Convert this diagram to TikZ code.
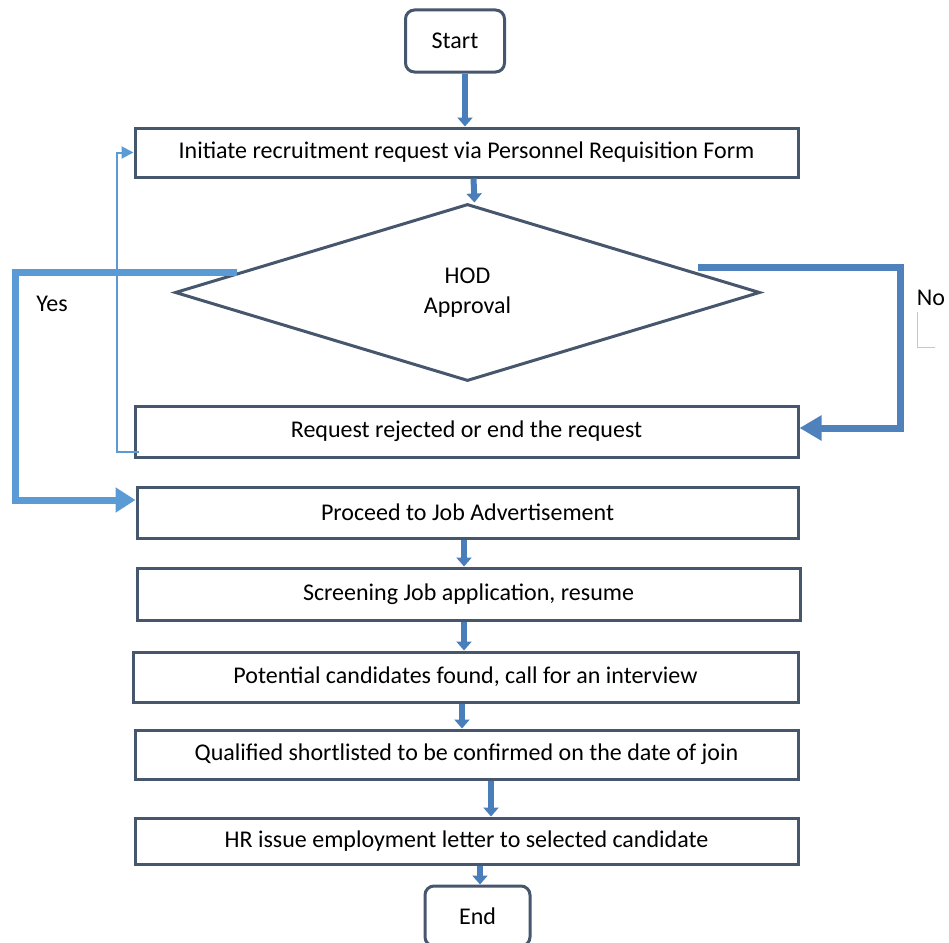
\documentclass[tikz,border=0pt]{standalone}
\usepackage{fontspec}
\setmainfont{Carlito}
\usepackage{tikz}
\usetikzlibrary{calc,arrows.meta,positioning,shapes.geometric}
\definecolor{slatex}{HTML}{46566D}
\definecolor{blockx}{HTML}{4A7EBB}
\definecolor{skyx}{HTML}{5B9BD5}
\definecolor{steelx}{HTML}{4F81BD}
\tikzset{
  box/.style={draw=slatex,line width=3pt,rectangle,align=center,inner sep=2pt},
  term/.style={box,rounded corners=9pt},
  ar/.style={-{Triangle[length=9pt,width=15pt]},line width=6pt,blockx},
  yesln/.style={-{Triangle[length=20pt,width=24pt]},line width=7pt,skyx},
  noln/.style={-{Triangle[length=22pt,width=24pt]},line width=7pt,steelx},
  back/.style={-{Triangle[length=12pt,width=12pt]},line width=2pt,skyx}
}
\begin{document}
\begin{tikzpicture}[x=1pt,y=-1pt,font=\fontsize{24}{30}\selectfont]
\useasboundingbox (0,0) rectangle (949,942);
\node[term,minimum width=99pt,minimum height=62pt] (start) at (455,41) {Start};
\node[box,minimum width=663pt,minimum height=49pt] (req) at (466.5,152.5) {Initiate recruitment request via Personnel Requisition Form};
\node[draw=slatex,line width=3pt,diamond,minimum width=585pt,minimum height=177pt,inner sep=0pt,align=center] (dia) at (467.5,292.5) {HOD\\Approval};
\node[box,minimum width=663pt,minimum height=51pt] (rej) at (466.5,431.5) {Request rejected or end the request};
\node[box,minimum width=661pt,minimum height=51pt] (adv) at (467.5,512.5) {Proceed to Job Advertisement};
\node[box,minimum width=663pt,minimum height=52pt] (scr) at (468.5,594) {Screening Job application, resume};
\node[box,minimum width=665pt,minimum height=50pt] (pot) at (465.5,677) {Potential candidates found, call for an interview};
\node[box,minimum width=663pt,minimum height=49pt] (qual) at (466.5,754.5) {Qualified shortlisted to be confirmed on the date of join};
\node[box,minimum width=663pt,minimum height=46pt] (hr) at (466.5,841) {HR issue employment letter to selected candidate};
\node[term,minimum width=105pt,minimum height=60pt] (end) at (477.5,916) {End};
% main flow
\draw[ar] ([xshift=10pt]start.south) -- ([xshift=10pt]start.south |- req.north);
\draw[ar] ([xshift=7pt]req.south) -- ([xshift=7pt]dia.north);
\draw[ar] ([xshift=-3.5pt]adv.south) -- ([xshift=-3.5pt]adv.south |- scr.north);
\draw[ar] ([xshift=-4.5pt]scr.south) -- ([xshift=-4.5pt]scr.south |- pot.north);
\draw[ar] ([xshift=-3.5pt]pot.south) -- ([xshift=-3.5pt]pot.south |- qual.north);
\draw[ar] ([xshift=24.5pt]qual.south) -- ([xshift=24.5pt]qual.south |- hr.north);
\draw[ar] ([xshift=13.5pt]hr.south) -- ([xshift=13.5pt]hr.south |- end.north);
% loop back
\draw[back] ([shift={(5pt,7pt)}]rej.south west) -- ++(-22,0) |- (req.west);
% yes / no
\coordinate (yes0) at (237,272);
\coordinate (no0) at (698,267);
\draw[yesln] (yes0) -- (15,272) |- ([yshift=12.5pt]adv.west);
\draw[noln] (no0) -- (900,267) |- ([yshift=3.5pt]rej.east);
\node (yes) at (52,304) {Yes};
\node (no) at (931,298) {No};
\draw[skyx!50,line width=0.8pt] (917.5,312) |- (935,347);
\end{tikzpicture}
\end{document}
